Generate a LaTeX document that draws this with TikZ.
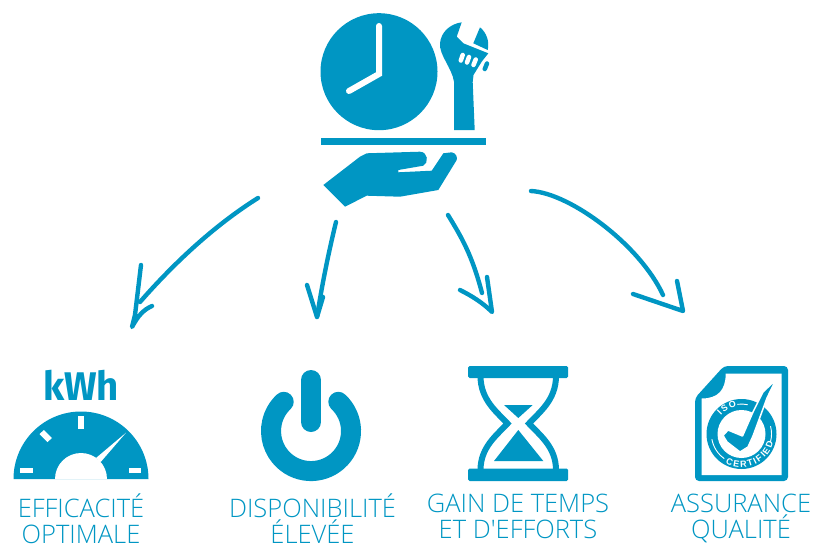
\documentclass[tikz,border=0pt]{standalone}
\usepackage{fontspec}
\usetikzlibrary{decorations.text}
\newfontfamily\labelfont{Open Sans}[UprightFont=* Light]
\newfontfamily\unitfont{Fira Sans}[UprightFont=* Bold]
\newfontfamily\stampfont{Liberation Sans}[UprightFont=* Bold]
\definecolor{iconblue}{HTML}{0096C3}
\begin{document}
\begin{tikzpicture}[x=1pt,y=-1pt,
		iconfill/.style={fill=iconblue,draw=none},
		whitefill/.style={fill=white,draw=none},
		pen/.style={draw=iconblue,line width=4.4pt,line cap=round,line join=round},
		slot/.style={draw=white,line width=4.5pt,line cap=round},
		capline/.style={text=iconblue,font={\labelfont\fontsize{25.5}{26}\selectfont},align=center,inner sep=0pt,anchor=north}]
		\useasboundingbox (0,0) rectangle (813,543);
		% clock
		\fill[iconfill] (379,71.7) circle[radius=58.5pt];
		\draw[draw=white,line width=6pt,line cap=round,line join=miter] (379,26) -- (379,74) -- (349,91);
		% wrench
		\fill[iconfill] (454,130) -- (474.7,130) -- (472.7,82) -- (473.5,75) -- (481.7,61.7) -- (488.3,53.3) -- (463.3,43.3) -- (456.7,36.7) -- (461.7,22.3) .. controls (450,24) and (441,32) .. (440,43.3) .. controls (439,55) and (452,68) .. (454,81.7) -- cycle;
		\fill[iconfill] (480,27.3) -- (473.3,43.3) -- (487.7,50) .. controls (489.5,42) and (487,33) .. (480,27.3) -- cycle;
		\draw[slot] (462.7,55) -- (460.8,60.5);
		\draw[slot] (469,57) -- (467,62.5);
		\draw[slot] (475.7,59.5) -- (473.5,65);
		\draw[draw=iconblue,line width=4.5pt,line cap=round] (487,63.5) -- (484.8,69);
		% tray and hand
		\fill[iconfill] (321,138) rectangle (486,145);
		\fill[iconfill] (323.3,185) -- (360,156.7) -- (366.7,153.3) -- (420,151.7) .. controls (428,152) and (429,163) .. (423.3,165.7) -- (398.3,170) -- (398.3,172.3) -- (431.7,170.7) -- (443.3,153.3) -- (451.7,152.3) .. controls (456,153) and (457.5,157) .. (456.7,160) -- (438.3,190) -- (400,196.7) -- (366.7,195.7) -- (345,206.7) -- cycle;
		% arrows
		\coordinate (effstart) at (258,198);
		\coordinate (effend) at (132,327);
		\coordinate (dispstart) at (336,222);
		\coordinate (dispend) at (317,317);
		\coordinate (gainstart) at (448,215);
		\coordinate (gainend) at (492,312);
		\coordinate (qualstart) at (531,191);
		\coordinate (qualend) at (683,311);
		\draw[pen] (effstart) .. controls (215,225) and (175,262) .. (140,302);
		\draw[pen] (141,265) -- (135,315) -- (effend) .. controls (138,316) and (143,310) .. (152,306);
		\draw[pen] (dispstart) .. controls (328,255) and (322,285) .. (dispend);
		\draw[pen] (307,285) -- (dispend) -- (323,297);
		\draw[pen] (gainstart) .. controls (462,238) and (472,255) .. (482,293);
		\draw[pen] (487,277) -- (gainend) .. controls (483,303) and (472,296) .. (460,290);
		\draw[pen] (qualstart) .. controls (570,193) and (640,245) .. (663,295);
		\draw[pen] (677,281) -- (qualend) -- (633,294);
		% meter
		\node[text=iconblue,font={\unitfont\fontsize{40}{40}\selectfont},xscale=0.96,inner sep=0pt,anchor=base] (kwh) at (81,400) {kWh};
		\fill[iconfill] (13.5,479) arc[start angle=180,end angle=0,radius=67.5pt] -- cycle;
		\fill[whitefill] (55,479) arc[start angle=180,end angle=0,radius=26pt] -- cycle;
		\fill[whitefill] (20,467.5) rectangle (33,473);
		\fill[whitefill] (128.5,467.5) rectangle (141,473);
		\fill[whitefill] (78,416) rectangle (84,429);
		\fill[whitefill] (39.5,434) -- (44,430) -- (52,438) -- (47.5,442) -- cycle;
		\fill[whitefill] (126,432.7) -- (96,458) -- (100.7,462) -- cycle;
		% power
		\draw[draw=iconblue,line width=20pt,line cap=round] (338.3,401.8) arc[start angle=47,end angle=-227,radius=40pt];
		\draw[draw=iconblue,line width=20pt,line cap=round] (311,380) -- (311,422);
		% hourglass
		\fill[iconfill,rounded corners=1.5pt] (468,366) rectangle (568,378);
		\fill[iconfill,rounded corners=1.5pt] (468,468.5) rectangle (568,481);
		\draw[draw=iconblue,line width=6pt] (480.5,376) .. controls (480.5,400) and (497,412) .. (507.5,423.5) .. controls (497,435) and (480.5,447) .. (480.5,470);
		\draw[draw=iconblue,line width=6pt] (556,376) .. controls (556,400) and (539.5,412) .. (529,423.5) .. controls (539.5,435) and (556,447) .. (556,470);
		\fill[iconfill] (504,405) -- (532.7,405) -- (518.3,418) -- cycle;
		\fill[iconfill] (518.3,430) -- (543.3,461) -- (494,461) -- cycle;
		% certificate
		\fill[iconfill,rounded corners=4pt] (724,366) -- (788,366) -- (788,481) -- (695,481) -- (695,398) -- cycle;
		\fill[whitefill] (725.7,373.5) -- (781.7,373.5) -- (781.7,475) -- (701.7,475) -- (701.7,398.5) .. controls (718,398.5) and (725.7,390) .. (725.7,373.5) -- cycle;
		\fill[iconfill] (741.5,434) circle[radius=35pt];
		\fill[whitefill] (741.5,434) circle[radius=24pt];
		\draw[draw=white,line width=0.9pt] (747.7,404.7) arc[start angle=78,end angle=98,radius=30pt];
		\draw[draw=white,line width=0.9pt] (770.5,426.2) arc[start angle=15,end angle=-15,radius=30pt];
		\draw[draw=white,line width=0.9pt] (711.9,439.2) arc[start angle=190,end angle=235,radius=30pt];
		\path[decorate,decoration={text along path,text align={fit to path},text color=white,text={|\stampfont\fontsize{9}{9}\selectfont|CERTIFIED}}] (725.5,462.9) arc[start angle=-119,end angle=-15,radius=33pt];
		\path[decorate,decoration={text along path,text align={fit to path},text color=white,text={|\stampfont\fontsize{9}{9}\selectfont|ISO}}] (721,415.6) arc[start angle=138,end angle=100,radius=27.5pt];
		\fill[iconfill,draw=white,line width=1.5pt,line join=round] (723,435.5) -- (728,430) -- (742.5,436) -- (753,412) -- (763,392) -- (776,379.5) -- (767,398) -- (753,436) -- (748,447) -- (740,452) -- (727,442) -- cycle;
		% captions
		\node[capline] (effcap) at (81,493.5) {EFFICACITÉ\\OPTIMALE};
		\node[capline] (dispcap) at (312.5,493.5) {DISPONIBILITÉ\\ÉLEVÉE};
		\node[capline] (gaincap) at (518,493.5) {GAIN DE TEMPS\\ET D'EFFORTS};
		\node[capline] (qualcap) at (741,493.5) {ASSURANCE\\QUALITÉ};
	\end{tikzpicture}
\end{document}
